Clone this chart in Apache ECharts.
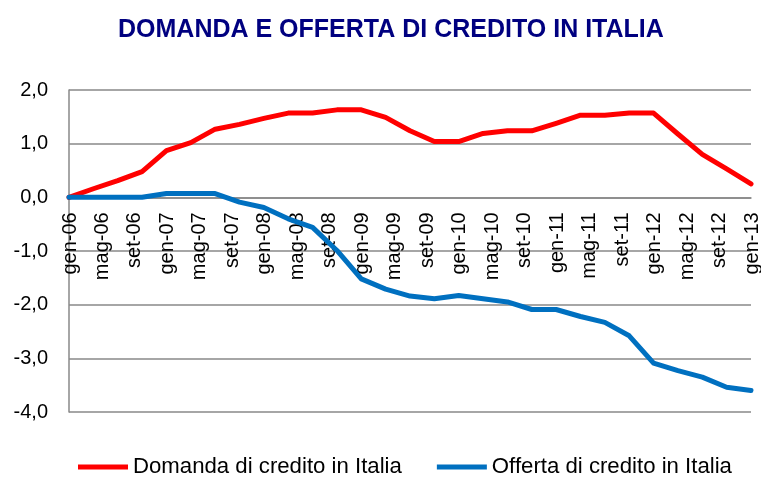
<!DOCTYPE html>
<html>
<head>
<meta charset="utf-8">
<script src="https://cdn.jsdelivr.net/npm/echarts@6/dist/echarts.min.js"></script>
<style>
    html, body {margin: 0; padding: 0; background: #fff;}
    #chart {width: 761px; height: 479px;}
</style>
</head>
<body>
<div id="chart"></div>
<script>
// mesi in italiano, asse mensile gen-06 .. gen-13
const monthNames = ['gen', 'feb', 'mar', 'apr', 'mag', 'giu', 'lug', 'ago', 'set', 'ott', 'nov', 'dic'];
const years = ['06', '07', '08', '09', '10', '11', '12', '13'];

// dati trimestrali
const quarters = [
    'gen-06', 'apr-06', 'lug-06', 'ott-06',
    'gen-07', 'apr-07', 'lug-07', 'ott-07',
    'gen-08', 'apr-08', 'lug-08', 'ott-08',
    'gen-09', 'apr-09', 'lug-09', 'ott-09',
    'gen-10', 'apr-10', 'lug-10', 'ott-10',
    'gen-11', 'apr-11', 'lug-11', 'ott-11',
    'gen-12', 'apr-12', 'lug-12', 'ott-12',
    'gen-13'
];
const domanda = [
    0, 0.16, 0.31, 0.48,
    0.87, 1.02, 1.27, 1.36,
    1.47, 1.57, 1.57, 1.63,
    1.63, 1.49, 1.24, 1.04,
    1.04, 1.19, 1.24, 1.24,
    1.38, 1.53, 1.53, 1.57,
    1.57, 1.18, 0.80, 0.53,
    0.25
];
const offerta = [
    0, 0, 0, 0,
    0.07, 0.07, 0.07, -0.09,
    -0.19, -0.40, -0.56, -0.99,
    -1.52, -1.71, -1.84, -1.89,
    -1.83, -1.89, -1.95, -2.09,
    -2.09, -2.22, -2.33, -2.58,
    -3.09, -3.23, -3.35, -3.54,
    -3.60
];

let categories = [];
years.forEach(y => {
    monthNames.forEach(m => {
        if (y === '13' && m !== 'gen') return;
        categories.push(m + '-' + y);
    });
});

const yMin = -4, yMax = 2;
const gridTop = 90, gridBottom = 67, chartHeight = 479;
// spostamento dell'asse x sulla linea dello zero
const plotHeight = chartHeight - gridTop - gridBottom;
const zeroOffset = -plotHeight * (0 - yMin) / (yMax - yMin);

const font = 'Liberation Sans, Arial, sans-serif';
let myChart = echarts.init(document.getElementById('chart'));

let option = {
    backgroundColor: '#fff',
    animation: false,
    title: {
        text: 'DOMANDA E OFFERTA DI CREDITO IN ITALIA',
        left: 118,
        top: 18,
        padding: 0,
        textStyle: {
            color: '#000080',
            fontFamily: font,
            fontWeight: 'bold',
            fontSize: 25
        }
    },
    legend: {
        left: 78,
        top: 456,
        padding: 0,
        itemGap: 35,
        itemWidth: 50,
        itemHeight: 5,
        icon: 'rect',
        textStyle: {
            color: '#000',
            fontFamily: font,
            fontSize: 22.2
        },
        data: ['Domanda di credito in Italia', 'Offerta di credito in Italia']
    },
    grid: {
        left: 69,
        right: 10,
        top: gridTop,
        bottom: gridBottom,
        containLabel: false,
        outerBoundsMode: 'none'
    },
    xAxis: {
        type: 'category',
        data: categories,
        boundaryGap: false,
        position: 'bottom',
        offset: zeroOffset,
        axisLine: {onZero: false, lineStyle: {color: '#888', width: 1.5}},
        axisTick: {show: false},
        splitLine: {show: false},
        axisLabel: {
            interval: 3,
            rotate: 90,
            margin: 15,
            verticalAlign: 'top',
            lineHeight: 2,
            color: '#000',
            fontFamily: font,
            fontSize: 20
        }
    },
    yAxis: {
        type: 'value',
        min: yMin,
        max: yMax,
        interval: 1,
        axisLine: {show: true, lineStyle: {color: '#888', width: 1.5}},
        axisTick: {show: false},
        splitLine: {lineStyle: {color: '#888', width: 1.5}},
        axisLabel: {
            margin: 21,
            color: '#000',
            fontFamily: font,
            fontSize: 20,
            formatter: v => v.toFixed(1).replace('.', ',')
        }
    },
    series: [
        {
            name: 'Domanda di credito in Italia',
            type: 'line',
            showSymbol: false,
            symbol: 'none',
            color: '#ff0000',
            lineStyle: {width: 5, color: '#ff0000', cap: 'round', join: 'round'},
            data: quarters.map((q, i) => [q, domanda[i]])
        },
        {
            name: 'Offerta di credito in Italia',
            type: 'line',
            showSymbol: false,
            symbol: 'none',
            color: '#0070c0',
            lineStyle: {width: 5, color: '#0070c0', cap: 'round', join: 'round'},
            data: quarters.map((q, i) => [q, offerta[i]])
        }
    ]
};

myChart.setOption(option);
</script>
</body>
</html>
